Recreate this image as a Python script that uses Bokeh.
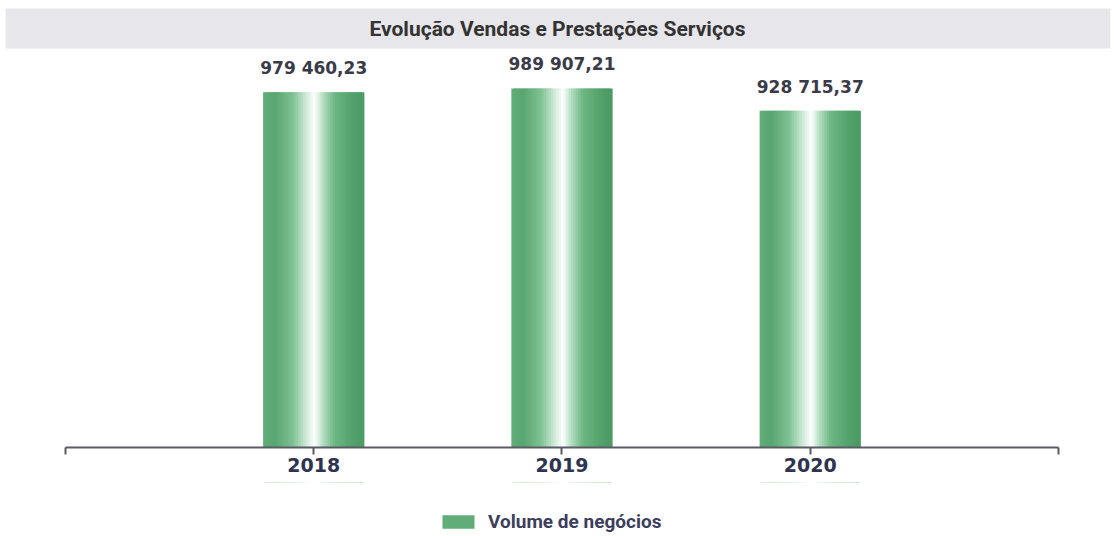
from bokeh.plotting import figure
from bokeh.layouts import column
from bokeh.models import (ColumnDataSource, LabelSet, Label, FixedTicker, BoxAnnotation,
                          Legend, LegendItem, Range1d)
from bokeh.core.properties import value
from bokeh.embed import file_html
from bokeh.resources import INLINE

# ---- data ----
years = ["2018", "2019", "2020"]
values = [979460.23, 989907.21, 928715.37]
title_text = "Evolução Vendas e Prestações Serviços"
series_name = "Volume de negócios"

# ---- gradient stripes for each bar ----
stops = [(0.0, "#62ad78"), (0.12, "#58a670"), (0.3, "#7fc293"), (0.45, "#d8eedf"),
         (0.52, "#ffffff"), (0.6, "#b5dfc2"), (0.72, "#6db682"), (0.88, "#55a46c"),
         (1.0, "#4c9a64")]


def rgb(h):
    return [int(h[i:i + 2], 16) for i in (1, 3, 5)]


def grad(f):
    for (f0, c0), (f1, c1) in zip(stops[:-1], stops[1:]):
        if f0 <= f <= f1:
            t = (f - f0) / (f1 - f0)
            c = [round(a + (b - a) * t) for a, b in zip(rgb(c0), rgb(c1))]
            return "#%02x%02x%02x" % tuple(c)
    return stops[-1][1]


N = 40
bar_w = 0.4
xs, tops, cols = [], [], []
for i, v in enumerate(values):
    pos = i + 1
    for k in range(N):
        f = (k + 0.5) / N
        xs.append(pos - bar_w / 2 + f * bar_w)
        tops.append(v)
        cols.append(grad(f))
stripes = ColumnDataSource(dict(x=xs, top=tops, color=cols))


def fmt(v):
    s = f"{v:,.2f}"
    return s.replace(",", " ").replace(".", ",")


lab_src = ColumnDataSource(dict(x=[i + 1 for i in range(len(years))], y=values,
                                text=[fmt(v) for v in values]))

p = figure(width=1114, height=482, output_backend="svg", toolbar_location=None,
           x_range=Range1d(-0.2417, 4.2095), y_range=Range1d(0, 1232550),
           min_border_left=5, min_border_right=4, min_border_top=0, min_border_bottom=35)
p.outline_line_color = None
p.background_fill_color = "white"
p.border_fill_color = "white"
p.grid.visible = False
p.yaxis.visible = False

band = BoxAnnotation(left=5, right=1110, top=8, bottom=48,
                     left_units="canvas", right_units="canvas",
                     top_units="canvas", bottom_units="canvas",
                     fill_color="#e7e6ea", fill_alpha=1, line_color=None)
p.add_layout(band)

title = Label(x=557, y=28, x_units="canvas", y_units="canvas", text=title_text,
              text_align="center", text_baseline="middle", text_font="Roboto",
              text_font_style="bold", text_font_size="21px", text_color="#333333")
p.add_layout(title)

bars = p.vbar(x="x", top="top", width=bar_w / N * 1.8, bottom=0, source=stripes,
              fill_color="color", line_color=None)

labels = LabelSet(x="x", y="y", text="text", source=lab_src, y_offset=14,
                  text_align="center", text_baseline="bottom",
                  text_font=value("DejaVu Sans"), text_font_style="bold",
                  text_font_size="17px", text_color="#3a3a48")
p.add_layout(labels)

ax = p.xaxis[0]
ax.ticker = FixedTicker(ticks=[0, 1, 2, 3, 4])
ax.major_label_overrides = {0: "", 1: years[0], 2: years[1], 3: years[2], 4: ""}
ax.bounds = (0, 4)
ax.minor_tick_line_color = None
ax.major_tick_in = 0
ax.major_tick_out = 7
ax.axis_line_color = "#5a5a66"
ax.axis_line_width = 2
ax.major_tick_line_color = "#5a5a66"
ax.major_tick_line_width = 2
ax.major_label_text_font = "DejaVu Sans"
ax.major_label_text_font_style = "bold"
ax.major_label_text_font_size = "19px"
ax.major_label_text_color = "#2e3350"
ax.major_label_standoff = 3

# ---- legend strip (separate small figure, same data source, bars kept out of view) ----
lg = figure(width=1114, height=54, output_backend="svg", toolbar_location=None,
            x_range=Range1d(-0.2417, 4.2095), y_range=Range1d(-2, -1),
            x_axis_location=None, y_axis_location=None,
            min_border_left=0, min_border_right=0, min_border_top=0, min_border_bottom=0)
lg.outline_line_color = None
lg.border_fill_color = "white"
lg.background_fill_color = "white"
lg.grid.visible = False
lg_bars = lg.vbar(x="x", top="top", width=bar_w / N, bottom=0, source=stripes,
                  fill_color="color", line_color=None)
legend = Legend(items=[LegendItem(label=series_name, renderers=[lg_bars], index=6)],
                location=(433, 3), orientation="horizontal",
                glyph_width=40, glyph_height=17, label_height=17, label_text_font="Roboto",
                label_text_font_style="bold", label_text_font_size="19px",
                label_text_color="#3d3d5c", border_line_color=None,
                background_fill_alpha=0, padding=0, margin=0, label_standoff=10)
lg.add_layout(legend)

layout = column(p, lg, spacing=0)
open("out.html", "w").write(file_html(layout, INLINE))
